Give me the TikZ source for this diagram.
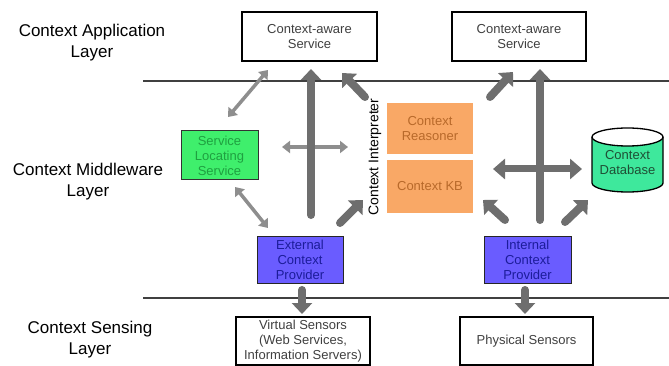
\documentclass[tikz,border=0pt]{standalone}
\usepackage{fontspec}
\setmainfont{Liberation Sans}
\usetikzlibrary{arrows.meta}
\definecolor{darkarrow}{HTML}{6E6E6E}
\definecolor{lightarrow}{HTML}{8E8E8E}
\definecolor{boxtext}{HTML}{404040}
\definecolor{greenfill}{HTML}{3FEF6C}
\definecolor{greentext}{HTML}{1FA040}
\definecolor{orangefill}{HTML}{F9A866}
\definecolor{orangetext}{HTML}{B8692A}
\definecolor{bluefill}{HTML}{6A5CFF}
\definecolor{bluetext}{HTML}{1C1C9A}
\definecolor{dbfill}{HTML}{3EE89C}
\definecolor{dbtext}{HTML}{1F4F35}
\definecolor{layerline}{HTML}{404040}
\begin{document}
\begin{tikzpicture}[x=1pt,y=-1pt,
  boxfont/.style={font=\fontsize{13}{15}\selectfont},
  wbox/.style={draw=black, line width=1.3pt, fill=white, inner sep=0pt, text=boxtext, boxfont, align=center},
  gbox/.style={draw=black!80, line width=1pt, fill=greenfill, inner sep=0pt, text=greentext, boxfont, align=center},
  obox/.style={fill=orangefill, inner sep=0pt, text=orangetext, boxfont, align=center},
  bbox/.style={draw=black!85, line width=1pt, fill=bluefill, inner sep=0pt, text=bluetext, boxfont, align=center},
  layerlabel/.style={font=\fontsize{17}{21}\selectfont, align=center, text=black},
  darrow/.style={draw=darkarrow, line width=8pt, line cap=round, -{Triangle[length=11pt,width=20pt]}},
  dbiarrow/.style={draw=darkarrow, line width=7pt, {Triangle[length=12pt,width=20pt]}-{Triangle[length=12pt,width=20pt]}},
  larrow/.style={draw=lightarrow, line width=3.5pt, {Triangle[length=8pt,width=12pt]}-{Triangle[length=8pt,width=12pt]}},
  layersep/.style={draw=layerline, line width=1.5pt}
]
\useasboundingbox (0,0) rectangle (669,366);

% layer separators
\coordinate (l1a) at (143,81);
\coordinate (l1b) at (669,81);
\coordinate (l2a) at (143,298);
\coordinate (l2b) at (669,298);
\draw[layersep] (l1a) -- (l1b);
\draw[layersep] (l2a) -- (l2b);

% layer labels
\node[layerlabel] (labApp) at (92,42.5) {Context Application\\Layer};
\node[layerlabel] (labMid) at (88,181.5) {Context Middleware\\Layer};
\node[layerlabel] (labSens) at (90,340) {Context Sensing\\Layer};

% application layer
\node[wbox, minimum width=135pt, minimum height=49pt] (svcA) at (309.5,36.5) {Context-aware\\Service};
\node[wbox, minimum width=134pt, minimum height=49pt] (svcB) at (519,36.5) {Context-aware\\Service};

% middleware
\node[gbox, minimum width=77pt, minimum height=49pt] (sls) at (219.5,155.5) {Service\\Locating\\Service};
\node[obox, minimum width=86pt, minimum height=51pt] (reasoner) at (430,128.5) {Context\\Reasoner};
\node[obox, minimum width=86pt, minimum height=53pt] (kb) at (430,186.5) {Context KB};
\node[rotate=90, font=\fontsize{14}{16}\selectfont, text=black, inner sep=0pt] (interp) at (375,157) {Context Interpreter};

% database cylinder
\fill[dbfill] (592,137) -- (592,183) arc (180:0:35.5 and 9) -- (663,137) arc (0:180:35.5 and 9) -- cycle;
\draw[black, line width=1.3pt] (592,137) -- (592,183) arc (180:0:35.5 and 9) -- (663,137);
\draw[black, line width=1.3pt] (627.5,137) ellipse [x radius=35.5, y radius=9];
\node[text=dbtext, boxfont, align=center, inner sep=0pt] (db) at (627.5,163) {Context\\Database};

\node[bbox, minimum width=86pt, minimum height=47pt] (ext) at (300,259.5) {External\\Context\\Provider};
\node[bbox, minimum width=87pt, minimum height=47pt] (int) at (527.5,259.5) {Internal\\Context\\Provider};

% sensing
\node[wbox, minimum width=134pt, minimum height=48pt] (vs) at (303,341) {Virtual Sensors\\(Web Services,\\Information Servers)};
\node[wbox, minimum width=133pt, minimum height=48pt] (ps) at (526.5,341) {Physical Sensors};

% free ends of connectors
\coordinate (vA) at (311,215);
\coordinate (vAt) at (311,69);
\coordinate (vB) at (540,220);
\coordinate (vBt) at (540,69);
\coordinate (d1s) at (365,97);
\coordinate (d1t) at (342,73);
\coordinate (d2s) at (340,223);
\coordinate (d2t) at (363,200);
\coordinate (d3s) at (490,97);
\coordinate (d3t) at (513,72);
\coordinate (d4s) at (505,220);
\coordinate (d4t) at (483,200);
\coordinate (d5s) at (565,222);
\coordinate (d5t) at (588,200);
\coordinate (hBl) at (493,169);
\coordinate (hBr) at (582,169);
\coordinate (hAl) at (282,147);
\coordinate (hAr) at (348,147);
\coordinate (q1a) at (228,117);
\coordinate (q1b) at (268,70);
\coordinate (q2a) at (235,187);
\coordinate (q2b) at (268,228);
\coordinate (eS) at (302,290);
\coordinate (eT) at (302,314);
\coordinate (iS) at (525,290);
\coordinate (iT) at (525,314);

% light double arrows
\draw[larrow] (q1a) -- (q1b);
\draw[larrow] (hAl) -- (hAr);
\draw[larrow] (q2a) -- (q2b);

% dark arrows
\draw[darrow] (vA) -- (vAt);
\draw[dbiarrow] (hBl) -- (hBr);
\draw[darrow] (vB) -- (vBt);
\draw[darrow] (d1s) -- (d1t);
\draw[darrow] (d2s) -- (d2t);
\draw[darrow] (d3s) -- (d3t);
\draw[darrow] (d4s) -- (d4t);
\draw[darrow] (d5s) -- (d5t);
\draw[darrow] (eS) -- (eT);
\draw[darrow] (iS) -- (iT);
\end{tikzpicture}
\end{document}
